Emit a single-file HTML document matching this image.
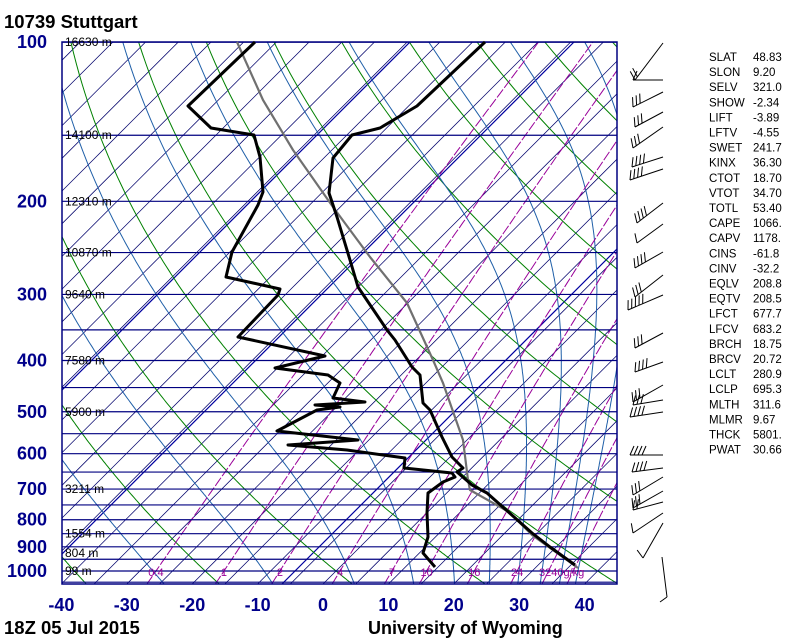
<!DOCTYPE html>
<html><head><meta charset="utf-8">
<style>
html,body{margin:0;padding:0;background:#fff;}
svg{display:block;}
text{font-family:"Liberation Sans",Arial,sans-serif;}
.pl{font-weight:bold;font-size:18px;fill:#00008b;}
.st{font-size:11.5px;fill:#000;}
</style></head>
<body>
<svg id="s" xmlns="http://www.w3.org/2000/svg" width="800" height="640" viewBox="0 0 800 640">
<defs><clipPath id="c"><rect x="62" y="42" width="555" height="542"/></clipPath></defs>
<g id="grid" clip-path="url(#c)"></g>
<g id="lbl"></g>
</svg>
<script>
(function(){
var NS="http://www.w3.org/2000/svg";
var grid=document.getElementById('grid'),svg=document.getElementById('s');
function el(par,tag,a,txt){var e=document.createElementNS(NS,tag);for(var k in a)e.setAttribute(k,a[k]);if(txt!==undefined)e.textContent=txt;par.appendChild(e);return e;}
function Y(p){return 571-229.7*Math.log(1000/p);}
function X(T,p){return 323+6.54*T+(584-Y(p));}
function pl(par,pts,a){var s=pts.map(function(q){return q[0].toFixed(1)+','+q[1].toFixed(1);}).join(' ');a.points=s;a.fill='none';return el(par,'polyline',a);}
// isotherms
for(var T=-200;T<=60;T+=5){var x0=323+6.54*T;el(grid,'line',{x1:x0,y1:584,x2:x0+600,y2:-16,stroke:'#00006a','stroke-width':0.75});}
// thick dark blue lines
[452,616,866].forEach(function(s){el(grid,'line',{x1:s-584,y1:584,x2:s-42,y2:42,stroke:'#0000a0','stroke-width':1.2});});
// dry adiabats
for(var th=153.15;th<=553.15;th+=20){var pts=[];for(var p=1060;p>=99;p-=5){var t=th*Math.pow(p/1000,0.286)-273.15;pts.push([X(t,p),Y(p)]);}pl(grid,pts,{stroke:'#008000','stroke-width':1});}
// moist adiabats
function es(tc){return 6.112*Math.exp(17.67*tc/(tc+243.5));}
function dTdp(Tk,p){var e=es(Tk-273.15),rs=0.622*e/(p-e),L=2.5e6;return (287*Tk+L*rs)/(p*(1004+L*L*rs*0.622/(287*Tk*Tk)));}
[-80,-64,-46,-28,-11,2,11.5,18,23.5,28,31.5,34.5,37].forEach(function(t0){
 var Tk=t0+273.15,p=1000;
 var Td=Tk,pd=1000;var down=[];while(pd<1060){Td+=dTdp(Td,pd)*1;pd+=1;down.push([X(Td-273.15,pd),Y(pd)]);}
 down.reverse();var pts=down.concat([[X(t0,1000),Y(1000)]]);
 while(p>100){Tk-=dTdp(Tk,p)*1;p-=1;if(p%4==0)pts.push([X(Tk-273.15,p),Y(p)]);}
 pl(grid,pts,{stroke:'#1f5fa8','stroke-width':1});
});
// mixing ratio
function tdw(w,p){var e=w*p/(622+w);var l=Math.log(e/6.112);return 243.5*l/(17.67-l);}
var ws=[0.4,1,2,4,7,10,16,24,32,40];
ws.forEach(function(w){var pts=[];for(var p=1060;p>=100;p-=5)pts.push([X(tdw(w,p),p),Y(p)]);pl(grid,pts,{stroke:'#990099','stroke-width':1,'stroke-dasharray':'10 2'});});
// isobars
for(var p=100;p<=1050;p+=50){el(svg,'line',{x1:62,y1:Y(p),x2:617,y2:Y(p),stroke:'#000080','stroke-width':1.2});}
el(svg,'rect',{x:62,y:42,width:555,height:542,fill:'none',stroke:'#000080','stroke-width':1.5});
// mixing ratio labels
var wl=[['0.4',0],['1',1],['2',2],['4',3],['7',4],['10',5],['16',6],['24',7]];
wl.forEach(function(a){el(svg,'text',{x:X(tdw(ws[a[1]],1000),1000),y:576,'text-anchor':'middle','font-size':'11','fill':'#990099'},a[0]);});
el(svg,'text',{x:539,y:576,'font-size':'11','fill':'#990099'},'3240g/kg');
// height labels
[['16630 m',100],['14100 m',150],['12310 m',200],['10870 m',250],['9640 m',300],['7580 m',400],['5900 m',500],['3211 m',700],['1554 m',850],['804 m',925],['99 m',1000]].forEach(function(a){el(svg,'text',{x:65,y:Y(a[1])+4,'font-size':'12',fill:'#000'},a[0]);});
// pressure labels
[100,200,300,400,500,600,700,800,900,1000].forEach(function(v){el(svg,'text',{x:47,y:Y(v)+6,'text-anchor':'end','class':'pl'},String(v));});
// temperature labels
for(var t=-40;t<=40;t+=10){el(svg,'text',{x:323+6.54*t,y:611,'text-anchor':'middle','class':'pl'},String(t));}
// profiles
var TT=[[485,42],[417,106],[380,128],[352,135],[333,158],[329,193],[337,217],[350,260],[358,287],[387,330],[395,340],[412,367],[420,375],[423,403],[430,410],[442,437],[452,457],[463,468],[457,472],[472,485],[487,493],[532,533],[550,547],[575,565]];
var DD=[[255,42],[188,106],[211,128],[254,135],[260,157],[263,192],[258,205],[232,252],[226,277],[280,289],[278,295],[238,337],[325,356],[275,368],[328,375],[340,383],[333,398],[365,402],[315,405],[340,407],[317,410],[277,431],[358,440],[288,445],[347,450],[405,458],[404,468],[452,473],[455,477],[443,482],[428,493],[427,513],[428,537],[423,553],[435,567]];
var PP=[[237,42],[263,100],[293,150],[333,207],[370,257],[407,303],[433,360],[443,383],[463,440],[468,480],[470,490],[509,512],[532,535],[578,568]];
pl(svg,PP,{stroke:'#707070','stroke-width':2.2,'stroke-linejoin':'round'});
pl(svg,TT,{stroke:'#000','stroke-width':3,'stroke-linejoin':'round'});
pl(svg,DD,{stroke:'#000','stroke-width':3,'stroke-linejoin':'round'});
// barbs
var B=[[663,43,635,80,2],[663,80,633,80,1],[663,92,633,107,3],[663,112,635,127,3],[663,127,633,148,3],[663,157,632,167,4],[663,169,630,180,4],[663,203,637,223,4],[663,224,637,243,1],[663,252,635,268,4],[663,275,635,297,3],[663,295,628,310,5],[663,333,635,348,3],[663,362,635,372,4],[663,385,633,402,3],[663,400,633,405,3],[663,412,630,417,4],[663,455,630,455,4],[663,468,632,472,4],[663,477,633,495,3],[663,491,633,508,3],[663,502,633,510,2],[663,513,633,533,1],[663,523,643,558,1],[662,557,667,597,0]];
B.forEach(function(b){el(svg,'line',{x1:b[0],y1:b[1],x2:b[2],y2:b[3],stroke:'#000','stroke-width':1});
 var dx=b[0]-b[2],dy=b[1]-b[3],L=Math.sqrt(dx*dx+dy*dy),ux=dx/L,uy=dy/L;var px=uy,py=-ux;
 for(var i=0;i<b[4];i++){var sx=b[2]+ux*4*i,sy=b[3]+uy*4*i;el(svg,'line',{x1:sx,y1:sy,x2:sx+(px*0.9+ux*0.4)*10,y2:sy+(py*0.9+uy*0.4)*10,stroke:'#000','stroke-width':1});}
});
el(svg,'line',{x1:667,y1:597,x2:660,y2:602,stroke:'#000','stroke-width':1});
// stats
var S=[['SLAT','48.83'],['SLON','9.20'],['SELV','321.0'],['SHOW','-2.34'],['LIFT','-3.89'],['LFTV','-4.55'],['SWET','241.7'],['KINX','36.30'],['CTOT','18.70'],['VTOT','34.70'],['TOTL','53.40'],['CAPE','1066.'],['CAPV','1178.'],['CINS','-61.8'],['CINV','-32.2'],['EQLV','208.8'],['EQTV','208.5'],['LFCT','677.7'],['LFCV','683.2'],['BRCH','18.75'],['BRCV','20.72'],['LCLT','280.9'],['LCLP','695.3'],['MLTH','311.6'],['MLMR','9.67'],['THCK','5801.'],['PWAT','30.66']];
S.forEach(function(r,i){var y=61+15.1*i;el(svg,'text',{x:709,y:y,'class':'st'},r[0]);el(svg,'text',{x:753,y:y,'class':'st'},r[1]);});
// titles
el(svg,'text',{x:4,y:28,'font-size':'18.5','font-weight':'bold',fill:'#000','xml:space':'preserve'},'10739  Stuttgart');
el(svg,'text',{x:4,y:634,'font-size':'18.5','font-weight':'bold',fill:'#000'},'18Z 05 Jul 2015');
el(svg,'text',{x:368,y:634,'font-size':'18','font-weight':'bold',fill:'#000'},'University of Wyoming');
})();
</script>
</body></html>
